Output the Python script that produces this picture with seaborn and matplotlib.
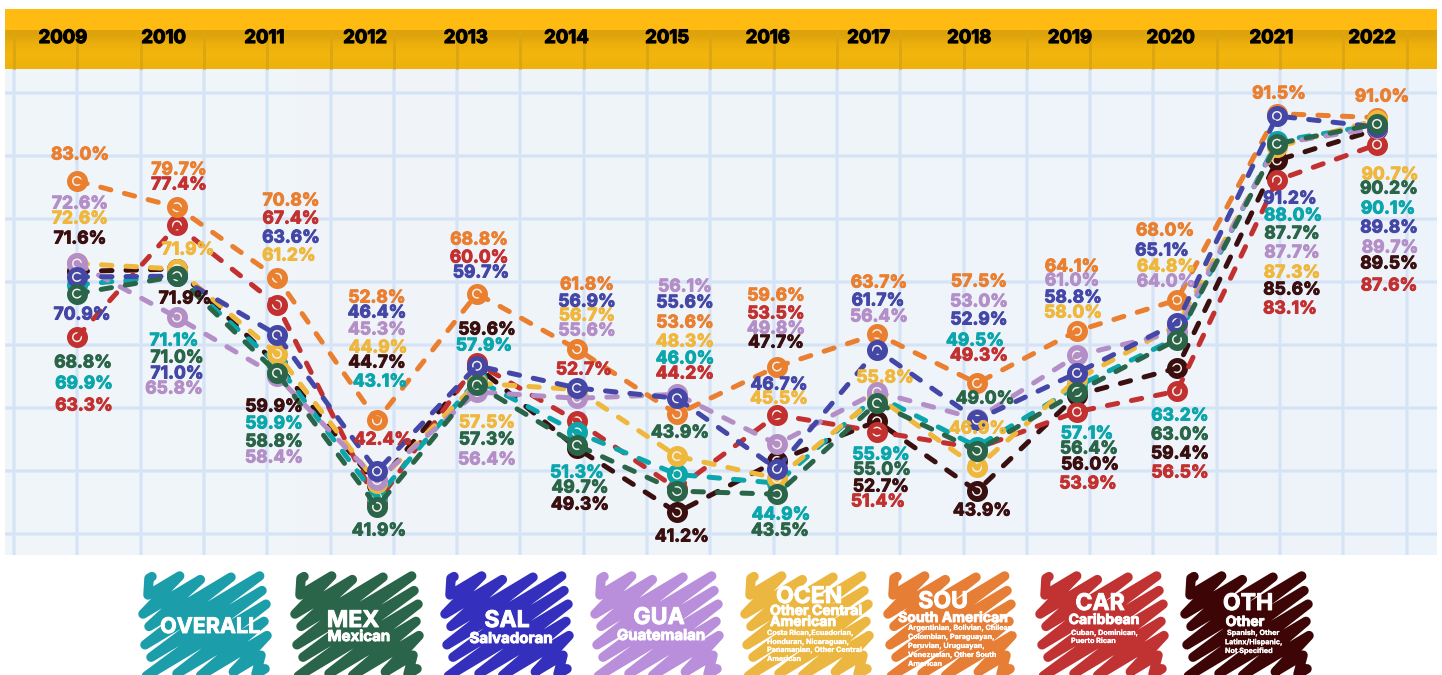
import matplotlib
matplotlib.use('Agg')
import matplotlib.pyplot as plt
import matplotlib.patheffects as pe
import numpy as np
import pandas as pd
import seaborn as sns

W, H = 1442, 675

years = list(range(2009, 2023))

overall = [69.9, 71.1, 59.9, 43.1, 57.9, 51.3, 46.0, 44.9, 55.9, 49.5, 57.1, 63.2, 88.0, 90.1]
mex = [68.8, 71.0, 58.8, 41.9, 57.3, 49.7, 43.9, 43.5, 55.0, 49.0, 56.4, 63.0, 87.7, 90.2]
sal = [70.9, 71.0, 63.6, 46.4, 59.7, 56.9, 55.6, 46.7, 61.7, 52.9, 58.8, 65.1, 91.2, 89.8]
gua = [72.6, 65.8, 58.4, 45.3, 56.4, 55.6, 56.1, 49.8, 56.4, 53.0, 61.0, 64.0, 87.7, 89.7]
ocen = [72.6, 71.9, 61.2, 44.9, 57.5, 56.7, 48.3, 45.5, 55.8, 46.9, 58.0, 64.8, 87.3, 90.7]
sou = [83.0, 79.7, 70.8, 52.8, 68.8, 61.8, 53.6, 59.6, 63.7, 57.5, 64.1, 68.0, 91.5, 91.0]
car = [63.3, 77.4, 67.4, 42.4, 60.0, 52.7, 44.2, 53.5, 51.4, 49.3, 53.9, 56.5, 83.1, 87.6]
oth = [71.6, 71.9, 59.9, 44.7, 59.6, 49.3, 41.2, 47.7, 52.7, 43.9, 56.0, 59.4, 85.6, 89.5]

# drawn bottom to top
series = {'OTH': oth, 'CAR': car, 'OVERALL': overall, 'SOU': sou,
          'OCEN': ocen, 'GUA': gua, 'SAL': sal, 'MEX': mex}

line_colors = {'OVERALL': '#0aa6ab', 'MEX': '#2a6549', 'SAL': '#4447a6', 'GUA': '#b48fc7',
               'OCEN': '#efb73c', 'SOU': '#ea7f30', 'CAR': '#c33030', 'OTH': '#3a0f0f'}

# where each value label sits, in image pixels
label_px = {
    'OVERALL': [(84, 384), (174, 341), (274, 424), (380, 382), (484, 346), (577, 473), (685, 359),
                (781, 515), (881, 455), (975, 341), (1087, 434), (1180, 416), (1293, 216), (1388, 209)],
    'MEX': [(83, 363), (177, 358), (274, 442), (379, 531), (487, 440), (580, 488), (680, 433),
            (780, 531), (882, 470), (985, 399), (1089, 449), (1180, 435), (1292, 234), (1389, 189)],
    'SAL': [(82, 315), (177, 374), (291, 238), (377, 313), (481, 273), (587, 302), (685, 303),
            (779, 385), (878, 301), (979, 320), (1073, 298), (1162, 251), (1290, 199), (1389, 228)],
    'GUA': [(80, 204), (174, 389), (274, 458), (377, 330), (487, 460), (587, 331), (685, 287),
            (776, 329), (879, 317), (979, 302), (1072, 281), (1166, 282), (1292, 253), (1390, 248)],
    'OCEN': [(80, 219), (188, 250), (289, 256), (378, 348), (487, 423), (587, 316), (685, 342),
             (779, 399), (885, 378), (978, 429), (1073, 313), (1166, 267), (1292, 273), (1390, 175)],
    'SOU': [(80, 155), (179, 170), (291, 201), (377, 298), (479, 240), (587, 285), (685, 323),
            (776, 296), (879, 283), (979, 282), (1072, 267), (1165, 231), (1279, 94), (1382, 97)],
    'CAR': [(84, 406), (179, 185), (291, 219), (383, 440), (479, 258), (584, 370), (685, 374),
            (776, 314), (878, 502), (979, 356), (1088, 484), (1180, 473), (1290, 309), (1389, 286)],
    'OTH': [(80, 239), (185, 299), (274, 407), (377, 363), (487, 330), (580, 505), (682, 537),
            (776, 343), (881, 487), (982, 511), (1090, 465), (1180, 454), (1292, 290), (1389, 264)],
}

legend_boxes = [
    (143, '#1c9eaa', [('OVERALL', 210, 627, 21.5, 'center')]),
    (295, '#2a6549', [('MEX', 353, 621, 23, 'center'), ('Mexican', 359, 637, 15, 'center')]),
    (445, '#3430bd', [('SAL', 507, 621, 23, 'center'), ('Salvadoran', 511, 639, 15, 'center')]),
    (595, '#b98fdc', [('GUA', 659, 618, 23, 'center'), ('Guatemalan', 661, 636, 15, 'center')]),
    (745, '#ebb740', [('OCEN', 809, 597, 23, 'center'), ('Other Central', 770, 611, 14, 'left'),
                      ('American', 770, 622, 14, 'left'), ('Costa Rican,Ecuadorian,', 767, 633, 7.2, 'left'),
                      ('Honduran, Nicaraguan,', 767, 642, 7.2, 'left'),
                      ('Panamanian, Other Central', 767, 650, 7.2, 'left'), ('American', 767, 659, 7.2, 'left')]),
    (888, '#e67e36', [('SOU', 943, 602, 23, 'center'), ('South American', 953, 618, 14, 'center'),
                      ('Argentinian, Bolivian, Chilean,', 908, 628, 7.2, 'left'),
                      ('Colombian, Paraguayan,', 908, 637, 7.2, 'left'), ('Peruvian, Uruguayan,', 908, 646, 7.2, 'left'),
                      ('Venezuelan, Other South', 908, 655, 7.2, 'left'), ('American', 908, 664, 7.2, 'left')]),
    (1040, '#c13333', [('CAR', 1100, 604, 23, 'center'), ('Caribbean', 1104, 620, 14, 'center'),
                       ('Cuban, Dominican,', 1071, 633, 7.2, 'left'), ('Puerto Rican', 1071, 641, 7.2, 'left')]),
    (1185, '#3d0505', [('OTH', 1248, 604, 23, 'center'), ('Other', 1245, 622, 14, 'center'),
                       ('Spanish, Other', 1227, 633, 7.2, 'left'), ('Latinx/Hispanic,', 1225, 642, 7.2, 'left'),
                       ('Not Specified', 1225, 651, 7.2, 'left')]),
]

# wobble on the scribble stroke ends, same hand-drawn template for every swatch
scribble_left = [9, 5, 0, 6, 2, 8, 0, 4, 1, 7, 3]
scribble_right = [4, 0, 6, 2, 0, 5, 1, 3, 0, 6, 2]


def px(v):
    return v * 72 / 100


def bold(col, w=1.0):
    return [pe.withStroke(linewidth=px(w), foreground=col)]


def scribble(ax, x0, color):
    pts_x, pts_y = [], []
    for i in range(11):
        c = 10 + 16 * i
        lx = scribble_left[i]
        ly = c - 0.6 * lx
        if ly > 104:
            lx = (c - 104) / 0.6 + scribble_left[i]
            ly = c - 0.6 * lx
        rx = 124 - scribble_right[i]
        ry = c - 0.6 * rx
        if ry < 4:
            rx = (c - 4) / 0.6 - scribble_right[i]
            ry = c - 0.6 * rx
        pts_x += [x0 + lx, x0 + rx]
        pts_y += [572 + ly, 572 + ry]
    ax.plot(pts_x, pts_y, color=color, lw=px(9.5), solid_capstyle='round', solid_joinstyle='round', zorder=3)


sns.set_theme(style='white')
plt.rcParams['font.family'] = ['Inter', 'DejaVu Sans']
plt.rcParams['font.weight'] = 'bold'

fig = plt.figure(figsize=(W / 100, H / 100), dpi=100, facecolor='white')

# paper, header band and scribbled legend live on a full-image pixel axes
bg = fig.add_axes([0, 0, 1, 1])
paper = np.linspace(0, 1, 64).reshape(1, -1, 1) * np.array([-0.012, -0.006, 0.004]) + np.array([0.945, 0.962, 0.977])
bg.imshow(paper, extent=(5, 1437, 555, 69), aspect='auto', zorder=0)
grid_x = np.arange(14, 1437, 63.3)
grid_y = np.arange(93, 555, 63)
bg.vlines(grid_x, 69, 555, color='#e0eaf7', lw=px(4), zorder=1)
bg.hlines(grid_y, 5, 1437, color='#e0eaf7', lw=px(4), zorder=1)
bg.vlines(grid_x, 69, 555, color='#d4e3f5', lw=px(2), zorder=1)
bg.hlines(grid_y, 5, 1437, color='#d4e3f5', lw=px(2), zorder=1)

band = np.array([[[0.87, 0.64, 0.05]], [[0.93, 0.69, 0.05]], [[0.95, 0.71, 0.05]], [[0.94, 0.70, 0.05]]])
bg.imshow(band, extent=(5, 1437, 69, 30), aspect='auto', interpolation='bilinear', zorder=1.5)
bg.vlines(grid_x, 30, 69, color='#dda610', lw=px(3), zorder=1.6)
bg.axhspan(9, 30, xmin=5 / W, xmax=1437 / W, color='#ffbb12', lw=0, zorder=1.7)

for x0, color, texts in legend_boxes:
    scribble(bg, x0, color)
    for s, tx, ty, size, ha in texts:
        bg.text(tx, ty, s, color='white', fontsize=px(size), ha=ha, va='center', zorder=4,
                path_effects=bold('white', 0.9 if size > 10 else 0.2))
bg.set_xlim(0, W)
bg.set_ylim(H, 0)
bg.axis('off')

# header years, spaced on their own scale
head = fig.add_axes([5 / W, 1 - 69 / H, 1432 / W, 60 / H], facecolor='none')
head.set_xlim(2009 + (5 - 63) / 100.7, 2009 + (1437 - 63) / 100.7)
head.set_xticks(years)
head.set_xticklabels(years, fontsize=px(18.5), color='black')
head.tick_params(axis='x', length=0, pad=px(-39))
head.set_yticks([])
sns.despine(ax=head, left=True, bottom=True)
for lab in head.get_xticklabels():
    lab.set_path_effects(bold('black', 1.2))

# the lines
ax = fig.add_axes([5 / W, 1 - 555 / H, 1432 / W, 486 / H], facecolor='none')
rows = [(name, y, v) for name, vals in series.items() for y, v in zip(years, vals)]
df = pd.DataFrame(rows, columns=['group', 'year', 'value'])

for i, name in enumerate(series):
    d = df[df['group'] == name]
    col = line_colors[name]
    sns.scatterplot(data=d, x='year', y='value', color=col, s=px(21) ** 2, linewidth=0,
                    ax=ax, zorder=3 + i * 3, legend=False)
    sns.scatterplot(data=d, x='year', y='value', facecolor='none', edgecolor='#f4f1ea', s=px(8.5) ** 2,
                    linewidth=px(1.5), ax=ax, zorder=3.5 + i * 3, legend=False)
    sns.lineplot(data=d, x='year', y='value', color=col, linewidth=px(5), errorbar=None,
                 linestyle=(0, (2.1, 2.8)), dash_capstyle='round', ax=ax, zorder=4 + i * 3, legend=False)

ax.set_xlim(2009 - 72 / 100, 2009 + 1360 / 100)
ax.set_ylim(83 - 374 / 7.93, 83 + 112 / 7.93)
ax.axis('off')

# value labels on top
for name, vals in series.items():
    for v, (lx, ly) in zip(vals, label_px[name]):
        ax.text(lx / W, 1 - ly / H, f'{v:.1f}%', transform=fig.transFigure, color=line_colors[name],
                fontsize=px(17.5), ha='center', va='center', zorder=60, path_effects=bold(line_colors[name], 1.0))

fig.savefig('out.png', dpi=100)
